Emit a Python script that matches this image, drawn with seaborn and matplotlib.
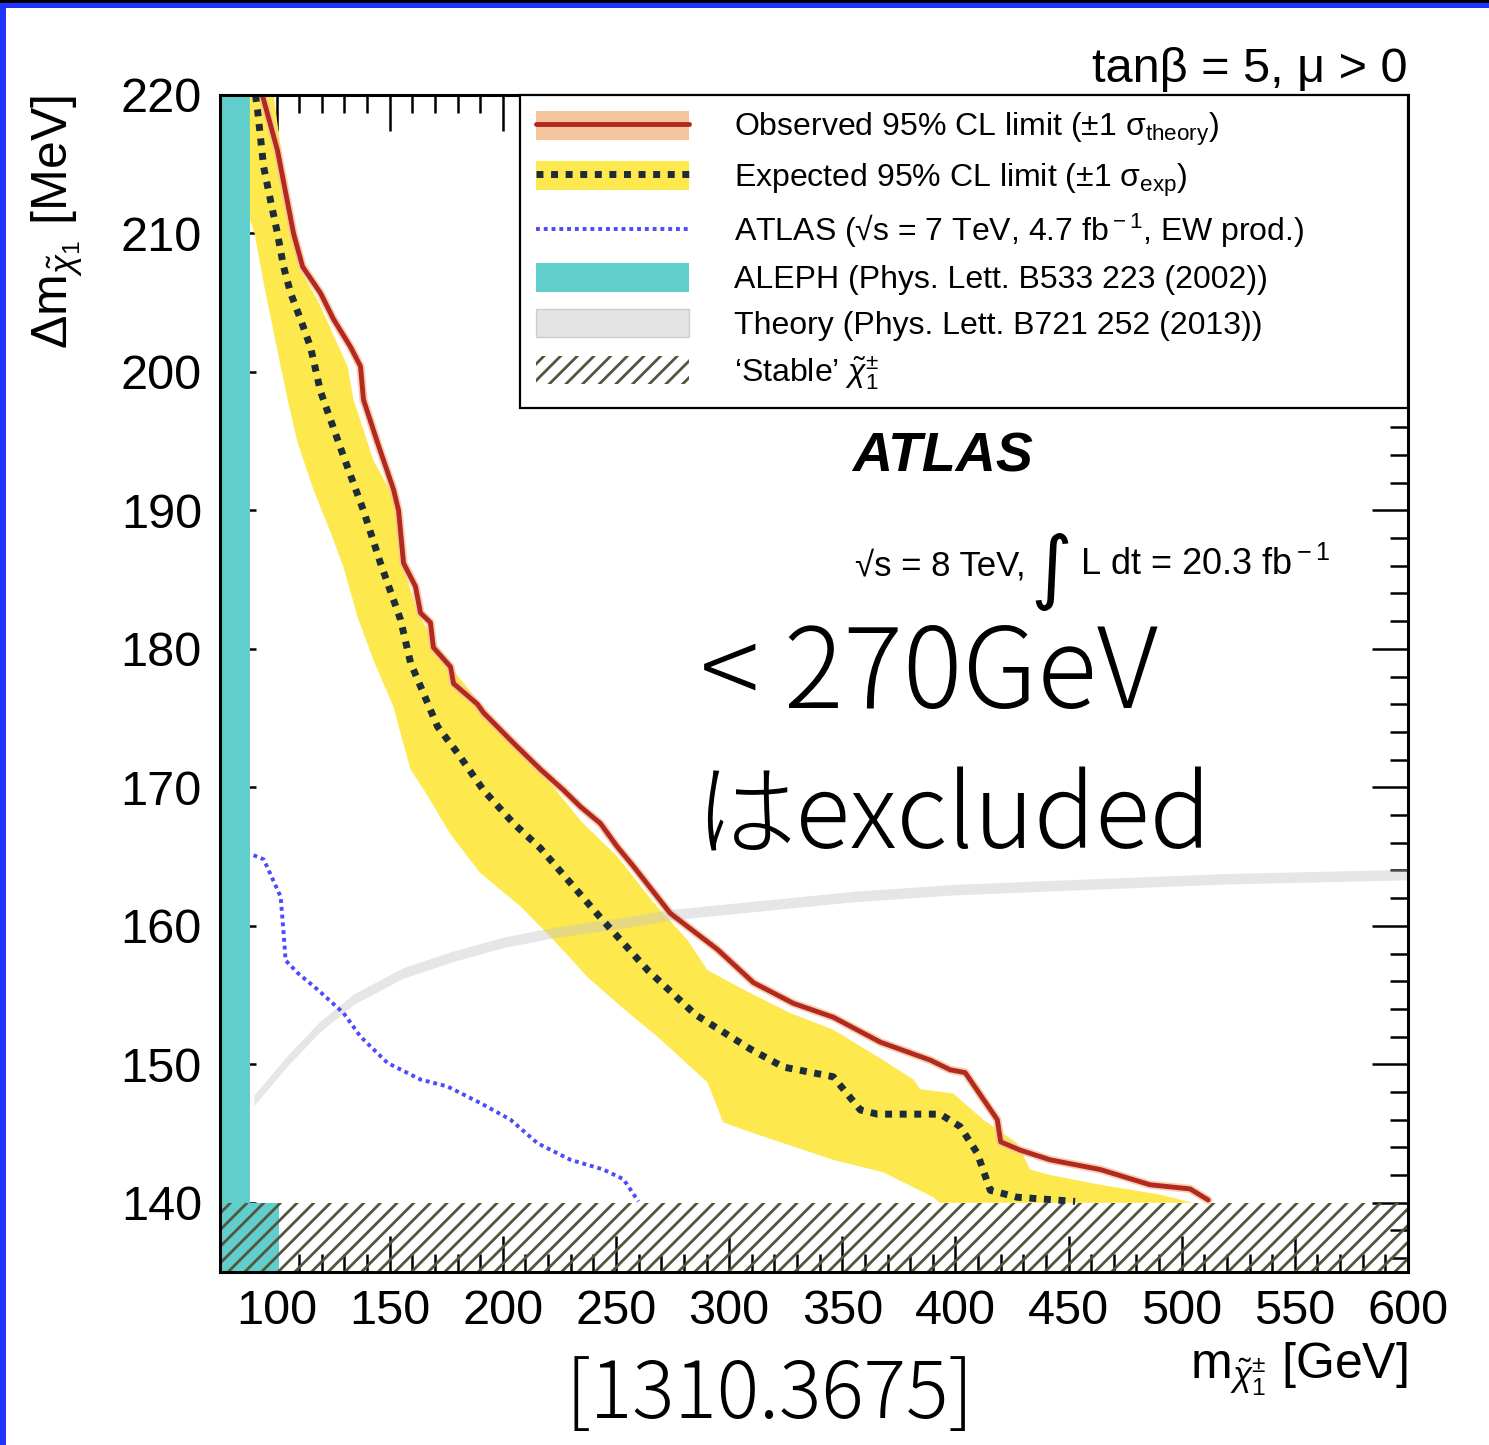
import numpy as np
import pandas as pd
import matplotlib
matplotlib.use("Agg")
import matplotlib.pyplot as plt
import seaborn as sns
from matplotlib.patches import Patch, Rectangle
from matplotlib.lines import Line2D
from matplotlib.ticker import MultipleLocator

# ---------------- data ----------------
obs_x = [93.7, 100.4, 107.5, 111.5, 119.4, 125.2, 132.7, 137.1, 138.4, 144.6, 151.7, 153.9,
         156.1, 161.4, 163.6, 168.0, 169.3, 176.9, 178.2, 188.8, 191.4, 204.7, 216.6, 226.8,
         234.3, 243.1, 250.6, 257.7, 274.0, 294.8, 310.7, 328.4, 346.0, 366.8, 388.9, 397.7,
         404.3, 418.5, 420.0, 428.6, 441.9, 464.0, 486.0, 503.7, 511.7]
obs_y = [220.0, 216.0, 210.0, 207.6, 205.7, 203.8, 201.8, 200.4, 198.0, 194.9, 191.5, 190.0,
         186.2, 184.5, 182.6, 181.9, 180.1, 178.7, 177.5, 176.0, 175.4, 173.2, 171.3, 169.8,
         168.6, 167.4, 165.7, 164.3, 160.9, 158.3, 155.9, 154.4, 153.4, 151.6, 150.3, 149.6,
         149.4, 146.0, 144.4, 143.8, 143.1, 142.4, 141.3, 141.0, 140.2]

exp_x = [90.7, 91.6, 94.3, 97.3, 100.4, 103.1, 106.2, 110.6, 115.0, 119.4, 129.6, 138.4, 145.9,
         154.8, 159.2, 164.9, 171.1, 179.9, 191.4, 204.7, 216.6, 243.1, 264.0, 285.0, 309.4,
         324.0, 346.0, 358.0, 365.5, 393.3, 402.1, 409.6, 415.4, 427.3, 452.9]
exp_y = [220.0, 218.9, 214.8, 212.4, 210.0, 207.6, 205.7, 203.8, 201.8, 198.6, 193.9, 190.0, 186.2,
         182.1, 179.0, 176.8, 174.4, 172.5, 169.8, 167.4, 165.6, 160.6, 156.8, 153.6, 151.1,
         149.8, 149.1, 146.7, 146.4, 146.4, 145.5, 143.6, 140.9, 140.4, 140.1]

band_up_x = [98.7, 103.0, 109.7, 118.1, 131.4, 134.0, 142.8, 151.7, 156.1, 162.3, 175.5, 188.8,
             203.4, 221.0, 234.3, 250.6, 266.5, 281.5, 290.4, 306.3, 327.0, 346.0, 368.1, 381.4,
             384.5, 399.0, 412.3, 427.3, 433.0, 441.9, 464.0, 490.0, 505.0]
band_up_y = [220.0, 214.8, 207.6, 205.2, 200.4, 198.0, 193.6, 191.0, 185.9, 182.6, 179.0, 176.3,
             173.4, 170.3, 167.6, 165.0, 161.7, 159.0, 156.8, 155.4, 153.7, 152.5, 150.3, 148.9,
             148.2, 147.9, 146.0, 144.3, 142.4, 142.0, 141.3, 140.6, 140.0]
band_lo_x = [88.2, 88.2, 90.3, 94.3, 97.3, 101.8, 104.9, 109.3, 116.3, 123.9, 129.6, 135.8, 142.8,
             151.7, 154.8, 159.2, 166.7, 176.9, 190.1, 207.8, 222.3, 237.4, 252.0, 268.3, 290.4,
             297.4, 309.4, 346.0, 368.1, 390.2, 393.0]
band_lo_y = [220.0, 211.0, 210.0, 206.4, 204.0, 200.4, 198.0, 194.9, 191.5, 188.4, 185.9, 182.3,
             179.2, 175.8, 173.9, 171.3, 169.4, 166.6, 163.8, 161.4, 159.0, 156.3, 154.2, 152.0,
             148.7, 145.8, 145.1, 143.1, 142.2, 140.4, 140.0]

atlas7_x = [89.8, 94.3, 101.8, 103.1, 104.0, 109.3, 118.1, 129.6, 137.1, 149.0, 163.6, 175.5,
            190.1, 203.4, 215.3, 229.9, 244.4, 253.3, 259.9]
atlas7_y = [165.1, 164.8, 162.1, 159.5, 157.5, 156.6, 155.4, 153.7, 152.0, 150.1, 148.9, 148.4,
            147.2, 146.0, 144.3, 143.1, 142.4, 141.7, 140.1]

theory_x = [90.0, 105.0, 119.0, 134.0, 156.0, 178.0, 200.0, 222.0, 252.0, 274.0, 354.0, 398.0,
            442.0, 520.0, 600.0]
theory_y = [147.4, 150.3, 152.7, 154.7, 156.6, 157.8, 158.8, 159.5, 160.2, 160.8, 162.1, 162.6,
            162.9, 163.4, 163.7]
theory_halfwidth = 0.38

aleph_x = [75.0, 88.2, 88.2, 101.0, 101.0, 75.0]
aleph_y = [220.0, 220.0, 140.0, 140.0, 135.0, 135.0]

stable_x = [75.0, 600.0]
stable_low, stable_high = 135.0, 140.0

x_ticks = [100, 150, 200, 250, 300, 350, 400, 450, 500, 550, 600]
y_ticks = [140, 150, 160, 170, 180, 190, 200, 210, 220]

legend_labels = [
    "Observed 95% CL limit (\u00b11 \u03c3$_{\\rm theory}$)",
    "Expected 95% CL limit (\u00b11 \u03c3$_{\\rm exp}$)",
    "ATLAS (\u221as = 7 TeV, 4.7 fb$^{\\rm -1}$, EW prod.)",
    "ALEPH (Phys. Lett. B533 223 (2002))",
    "Theory (Phys. Lett. B721 252 (2013))",
    "\u2018Stable\u2019 $\\tilde{\\chi}_{1}^{\\pm}$",
]

# ---------------- style ----------------
YELLOW = "#fde84e"
CYAN = "#60cecb"
RED = "#b3281f"
PEACH = "#f4c49d"
DOT = "#1e2c36"
BLUE = "#4b4bff"
HATCH = "#55553f"

sns.set_theme(style="ticks")
plt.rcParams["font.family"] = ["Liberation Sans", "DejaVu Sans"]
plt.rcParams["mathtext.fontset"] = "custom"
plt.rcParams["mathtext.rm"] = "Liberation Sans"
plt.rcParams["mathtext.it"] = "Liberation Sans:italic"
plt.rcParams["mathtext.bf"] = "Liberation Sans:bold"
plt.rcParams["mathtext.sf"] = "Liberation Sans"
plt.rcParams["hatch.linewidth"] = 2.0
plt.rcParams["text.color"] = "black"
plt.rcParams["axes.labelcolor"] = "black"
plt.rcParams["xtick.color"] = "black"
plt.rcParams["ytick.color"] = "black"

W, H = 1489, 1445
fig = plt.figure(figsize=(W / 100, H / 100), dpi=100)
fig.patch.set_facecolor("white")
ax = fig.add_axes([220 / W, 1 - 1272 / H, 1188 / W, 1177 / H])
ax.set_facecolor("white")

# ALEPH
ax.fill(aleph_x, aleph_y, color=CYAN, lw=0, zorder=1.0)

# expected band
band_x = list(band_up_x) + list(band_lo_x[::-1])
band_y = list(band_up_y) + list(band_lo_y[::-1])
ax.fill(band_x, band_y, color=YELLOW, lw=0, zorder=1.2)

obs_df = pd.DataFrame({"m": obs_x, "dm": obs_y})
exp_df = pd.DataFrame({"m": exp_x, "dm": exp_y})
a7_df = pd.DataFrame({"m": atlas7_x, "dm": atlas7_y})

# observed theory band (halo)
sns.lineplot(data=obs_df, x="m", y="dm", sort=False, estimator=None, ax=ax,
             color=PEACH, lw=6, alpha=0.8, zorder=1.5, legend=False)

# theory gray band
th = np.array(theory_y)
ax.fill_between(theory_x, th - theory_halfwidth, th + theory_halfwidth,
                color="#c4c4c4", alpha=0.42, lw=0, zorder=1.6)

# stable hatch
ax.fill_between(stable_x, stable_low, stable_high, facecolor="none",
                edgecolor=HATCH, hatch="//", lw=0, zorder=1.8)

# lines
sns.lineplot(data=exp_df, x="m", y="dm", sort=False, estimator=None, ax=ax,
             color=DOT, lw=5, zorder=2.0, legend=False)
ax.lines[-1].set_linestyle((0, (1.0, 1.1)))
sns.lineplot(data=a7_df, x="m", y="dm", sort=False, estimator=None, ax=ax,
             color=BLUE, lw=2.8, zorder=2.0, legend=False)
ax.lines[-1].set_linestyle((0, (1.0, 1.0)))
sns.lineplot(data=obs_df, x="m", y="dm", sort=False, estimator=None, ax=ax,
             color=RED, lw=3.5, zorder=2.1, legend=False)

# axes
ax.set_xlim(75, 600)
ax.set_ylim(135, 220)
ax.set_xticks(x_ticks)
ax.set_yticks(y_ticks)
ax.set_xticklabels([str(v) for v in x_ticks])
ax.set_yticklabels([str(v) for v in y_ticks])
ax.xaxis.set_minor_locator(MultipleLocator(10))
ax.yaxis.set_minor_locator(MultipleLocator(2))
ax.tick_params(which="both", direction="in", top=True, right=True, width=1.8,
               color="black", labelcolor="black")
ax.tick_params(which="major", length=26)
ax.tick_params(which="minor", length=13)
ax.tick_params(axis="x", which="major", labelsize=35, pad=12)
ax.tick_params(axis="y", which="major", labelsize=35, pad=13)
for sp in ax.spines.values():
    sp.set_linewidth(2.2)
    sp.set_color("black")
    sp.set_visible(True)

ax.set_xlabel(r"$\mathrm{m}_{\tilde{\chi}_{1}^{\pm}}$ [GeV]", fontsize=36, loc="right")
ax.xaxis.set_label_coords(1.0, -0.058)
ax.set_ylabel(r"$\Delta\mathrm{m}_{\tilde{\chi}_{1}}$ [MeV]", fontsize=36, loc="top")
ax.yaxis.set_label_coords(-0.114, 1.0)

# legend
handles = [
    (Patch(facecolor=PEACH, edgecolor="none"), Line2D([0], [0], color=RED, lw=3.5)),
    (Patch(facecolor=YELLOW, edgecolor="none"),
     Line2D([0], [0], color=DOT, lw=5, ls=(0, (1.0, 1.1)))),
    Line2D([0], [0], color=BLUE, lw=2.8, ls=(0, (1.0, 1.0))),
    Patch(facecolor=CYAN, edgecolor="none"),
    Patch(facecolor="#e4e4e4", edgecolor="#cccccc"),
    Patch(facecolor="white", edgecolor=HATCH, hatch="//", lw=0),
]
leg = ax.legend(handles, legend_labels, loc="upper right",
                bbox_to_anchor=(0.2525, 0.0, 0.7475, 1.0), mode="expand",
                borderaxespad=0, fontsize=23, frameon=True, fancybox=False,
                edgecolor="black", framealpha=1, handlelength=4.8, handleheight=1.0,
                handletextpad=1.4, labelspacing=0.41, borderpad=0.5)
leg.get_frame().set_linewidth(1.6)
leg.set_zorder(5)

# texts
ax.text(1.0, 1.011, "tan\u03b2 = 5, \u03bc > 0", transform=ax.transAxes,
        ha="right", va="baseline", fontsize=35)
ax.text(0.532, 0.6797, "ATLAS", transform=ax.transAxes, ha="left", va="baseline",
        fontsize=40, fontweight="bold", fontstyle="italic")
ax.text(0.5345, 0.592, "\u221as = 8 TeV,", transform=ax.transAxes,
        ha="left", va="baseline", fontsize=25)
ax.text(0.700, 0.5947, "\u222b", transform=ax.transAxes, ha="center", va="center",
        fontsize=58, family=["DejaVu Sans"])
ax.text(0.7239, 0.592, "L dt = 20.3 fb$^{\\rm -1}$", transform=ax.transAxes,
        ha="left", va="baseline", fontsize=26)

cjk = ["Noto Sans CJK JP", "DejaVu Sans"]
ax.text(0.404, 0.479, "< 270GeV", transform=ax.transAxes, ha="left", va="baseline",
        fontsize=80, family=cjk, fontweight="light", zorder=6)
ax.text(0.399, 0.360, "\u306fexcluded", transform=ax.transAxes, ha="left", va="baseline",
        fontsize=73, family=cjk, fontweight="light", zorder=6)
fig.text(565 / W, 1 - 1418 / H, "[1310.3675]", ha="left", va="baseline",
         fontsize=57, family=cjk, fontweight="light")

# slide frame
fig.patches.append(Rectangle((0, 1 - 8 / H), 1, 8 / H, transform=fig.transFigure,
                             facecolor="#1f35ff", edgecolor="none", zorder=10))
fig.patches.append(Rectangle((0, 1 - 3 / H), 1, 3 / H, transform=fig.transFigure,
                             facecolor="black", edgecolor="none", zorder=11))
fig.patches.append(Rectangle((0, 0), 6 / W, 1, transform=fig.transFigure,
                             facecolor="#1f35ff", edgecolor="none", zorder=10))

fig.savefig("out.png", dpi=100)
